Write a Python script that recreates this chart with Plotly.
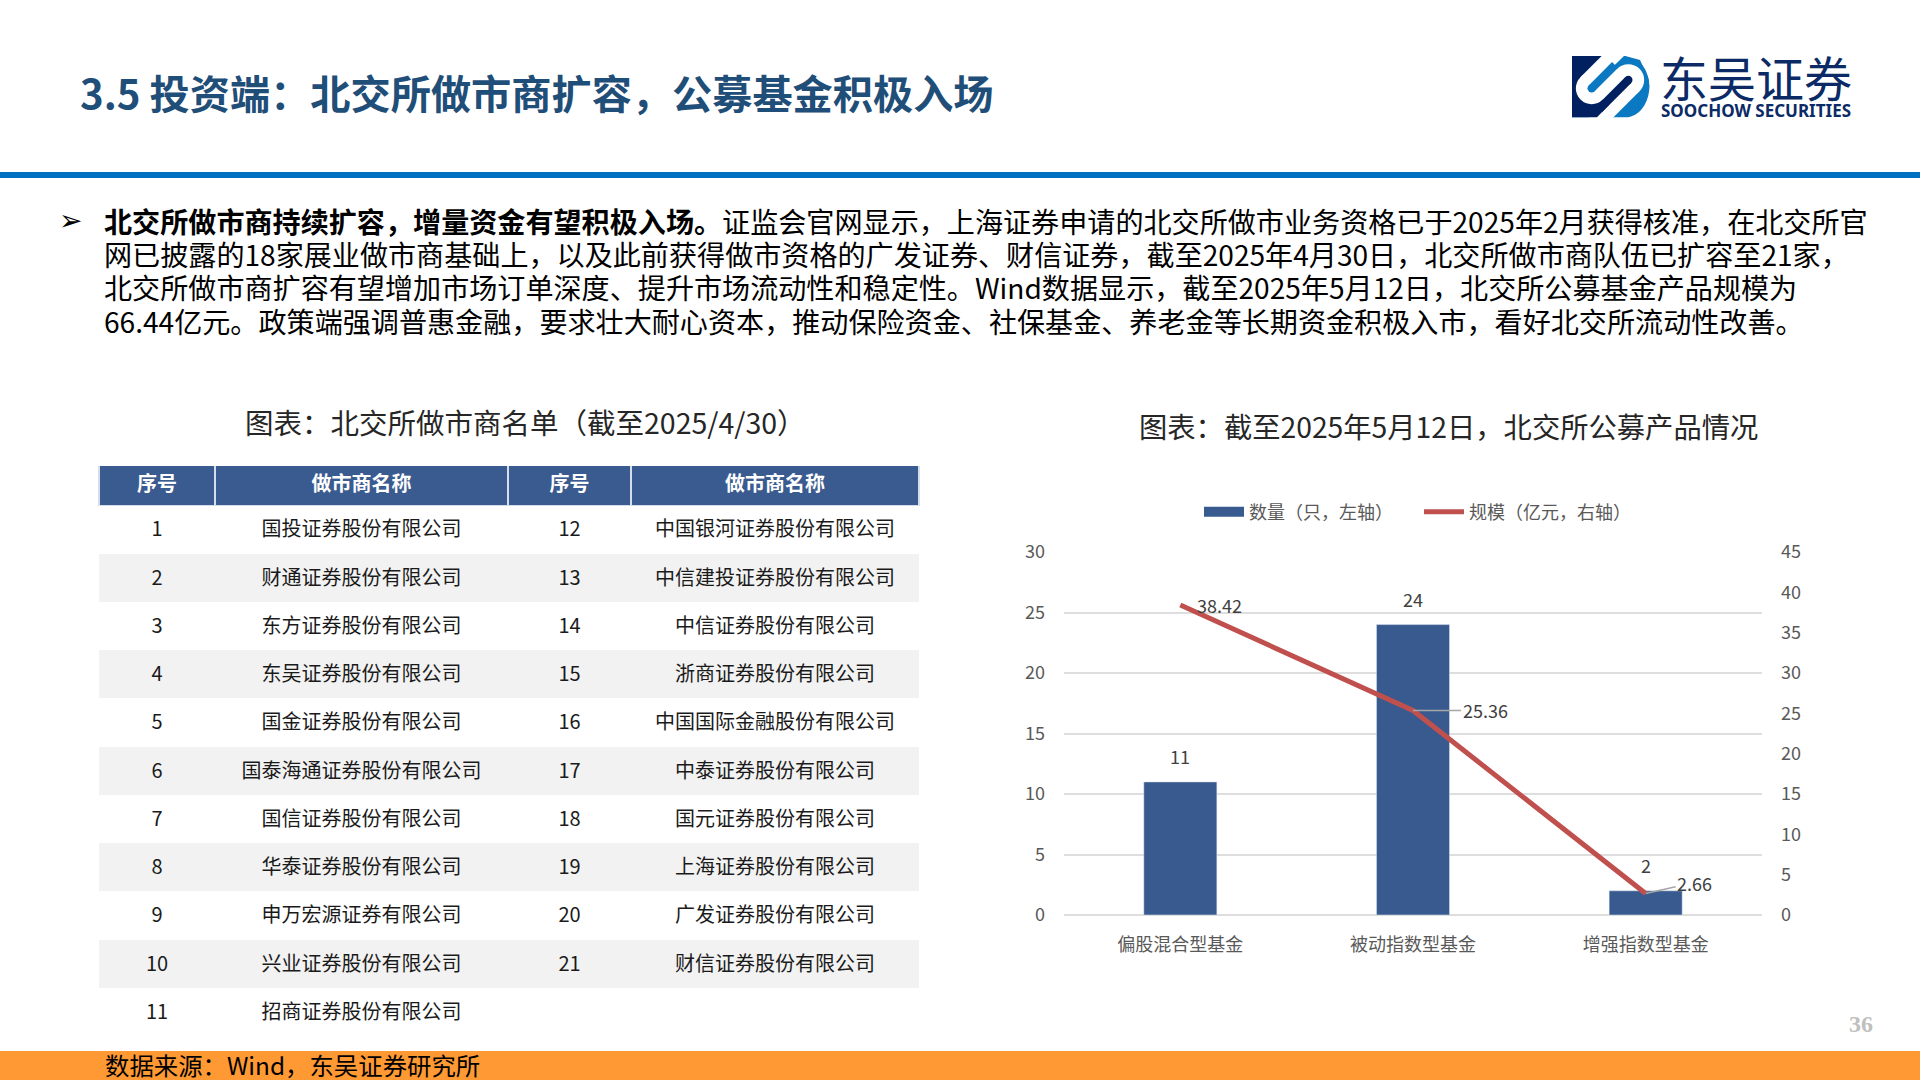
import plotly.graph_objects as go

W, H = 1920, 1080
FONT = "Noto Sans CJK SC"

# chart data
fund_types = ["偏股混合型基金", "被动指数型基金", "增强指数型基金"]
fund_counts = [11, 24, 2]
fund_scales = [38.42, 25.36, 2.66]

# table data
seq_left = ["1", "2", "3", "4", "5", "6", "7", "8", "9", "10", "11"]
names_left = ["国投证券股份有限公司", "财通证券股份有限公司", "东方证券股份有限公司", "东吴证券股份有限公司",
              "国金证券股份有限公司", "国泰海通证券股份有限公司", "国信证券股份有限公司", "华泰证券股份有限公司",
              "申万宏源证券有限公司", "兴业证券股份有限公司", "招商证券股份有限公司"]
seq_right = ["12", "13", "14", "15", "16", "17", "18", "19", "20", "21", ""]
names_right = ["中国银河证券股份有限公司", "中信建投证券股份有限公司", "中信证券股份有限公司", "浙商证券股份有限公司",
               "中国国际金融股份有限公司", "中泰证券股份有限公司", "国元证券股份有限公司", "上海证券股份有限公司",
               "广发证券股份有限公司", "财信证券股份有限公司", ""]
table_header = ["序号", "做市商名称", "序号", "做市商名称"]

# page text
slide_title = "3.5 投资端：北交所做市商扩容，公募基金积极入场"
body_lines = [
    "<b>北交所做市商持续扩容，增量资金有望积极入场。</b>证监会官网显示，上海证券申请的北交所做市业务资格已于2025年2月获得核准，在北交所官",
    "网已披露的18家展业做市商基础上，以及此前获得做市资格的广发证券、财信证券，截至2025年4月30日，北交所做市商队伍已扩容至21家，",
    "北交所做市商扩容有望增加市场订单深度、提升市场流动性和稳定性。Wind数据显示，截至2025年5月12日，北交所公募基金产品规模为",
    "66.44亿元。政策端强调普惠金融，要求壮大耐心资本，推动保险资金、社保基金、养老金等长期资金积极入市，看好北交所流动性改善。",
]
table_title = "图表：北交所做市商名单（截至2025/4/30）"
chart_title = "图表：截至2025年5月12日，北交所公募产品情况"
source_text = "数据来源：Wind，东吴证券研究所"


def px(x):
    return x / W


def py(y):
    return 1 - y / H


def note(text, x, y, size, color="#000000", anchor="left", family=FONT):
    return dict(text=text, x=px(x), y=py(y), xref="paper", yref="paper", xanchor=anchor, yanchor="middle",
                showarrow=False, font=dict(family=family, size=size, color=color))


def cell_text(vals, bold=False):
    # the table sets text from the top of the cell, a larger outer font pushes it down to the middle
    # the trailing <br> stops the table from word wrapping on the space inside the span tag
    out = []
    for v in vals:
        t = '<span style="font-size:20px">%s</span><br>' % v
        out.append("<b>%s</b>" % t if bold else t)
    return out


fig = go.Figure()

# table on the left
stripes = ["#FFFFFF" if i % 2 == 0 else "#F2F2F2" for i in range(len(seq_left))]
fig.add_trace(go.Table(
    domain=dict(x=[px(99), px(919)], y=[py(1036), py(460.4)]),
    columnwidth=[116, 293, 123, 288],
    header=dict(values=cell_text(table_header, bold=True), height=39, align="center",
                fill_color="#3A5B8F", line=dict(color="#D5DEEA", width=1.5),
                font=dict(family=FONT, size=40, color="#FFFFFF")),
    cells=dict(values=[cell_text(seq_left), cell_text(names_left), cell_text(seq_right), cell_text(names_right)],
               height=48.25, align="center",
               fill_color=[stripes] * 4, line=dict(color=[stripes] * 4, width=0),
               font=dict(family=FONT, size=40, color="#1A1A1A")),
))

# bars and line, the legend swatch of the bars is a thick line so it comes out as a wide block
fig.add_trace(go.Bar(x=fund_types, y=fund_counts, marker=dict(color="#385A8E"), showlegend=False,
                     width=0.314, xaxis="x", yaxis="y"))
fig.add_trace(go.Scatter(x=[None], y=[None], name="数量（只，左轴）", mode="lines",
                         line=dict(color="#385A8E", width=11), xaxis="x", yaxis="y"))
fig.add_trace(go.Scatter(x=fund_types, y=fund_scales, name="规模（亿元，右轴）", mode="lines",
                         line=dict(color="#C0504D", width=5), xaxis="x", yaxis="y2"))

fig.update_layout(
    width=W, height=H, autosize=False,
    margin=dict(l=0, r=0, t=0, b=0, autoexpand=False),
    paper_bgcolor="#FFFFFF", plot_bgcolor="#FFFFFF",
    font=dict(family=FONT, size=18, color="#595959"),
    xaxis=dict(domain=[px(1064), px(1762)], type="category", categoryorder="array", categoryarray=fund_types,
               range=[-0.5, 2.5], showline=False, ticks="",
               showgrid=False, ticklabelstandoff=17, tickfont=dict(size=18, color="#595959")),
    yaxis=dict(domain=[py(915), py(552)], range=[0, 30], dtick=5, gridcolor="#DEDEDE", gridwidth=1.5,
               zerolinecolor="#DEDEDE", zerolinewidth=1.5, showline=False, ticks="", ticklabelstandoff=18,
               tickfont=dict(size=18, color="#595959")),
    yaxis2=dict(range=[0, 45], dtick=5, overlaying="y", side="right", showgrid=False, zeroline=False,
                showline=False, ticks="", ticklabelstandoff=18, tickfont=dict(size=18, color="#595959")),
    legend=dict(orientation="h", x=px(1199), y=py(512), xanchor="left", yanchor="middle",
                itemwidth=40, entrywidth=165, entrywidthmode="pixels",
                font=dict(size=18, color="#595959"), bgcolor="rgba(0,0,0,0)"),
)

# data labels, bar counts above the bars
annotations = []
for cat, val in zip(fund_types, fund_counts):
    annotations.append(dict(x=cat, y=val, xref="x", yref="y", text=str(val), showarrow=False, yanchor="bottom",
                            yshift=11, font=dict(size=18, color="#404040")))

# line labels with the grey leader lines
annotations.append(dict(x=fund_types[0], y=fund_scales[0], xref="x", yref="y2", text=str(fund_scales[0]),
                        showarrow=False, xanchor="left", xshift=15, yshift=0, font=dict(size=18, color="#404040")))
annotations.append(dict(x=fund_types[1], y=fund_scales[1], xref="x", yref="y2", text=str(fund_scales[1]),
                        showarrow=True, arrowhead=0, arrowwidth=1.5, arrowcolor="#A6A6A6", ax=72, ay=0,
                        font=dict(size=18, color="#404040")))
annotations.append(dict(x=fund_types[2], y=fund_scales[2], xref="x", yref="y2", text=str(fund_scales[2]),
                        showarrow=True, arrowhead=0, arrowwidth=1.5, arrowcolor="#A6A6A6", ax=49, ay=-11,
                        font=dict(size=18, color="#404040")))

# page texts
annotations.append(note("<b>%s</b>" % slide_title, 78, 92, 40.2, "#1F4E79"))
annotations.append(note("➢", 57, 220, 28, family="DejaVu Sans"))
for i, line in enumerate(body_lines):
    annotations.append(note(line, 102, 220 + i * 33.4, 28.1))
annotations.append(note(table_title, 525.5, 421, 28.5, "#262626", anchor="center"))
annotations.append(note(chart_title, 1448, 425.5, 28.3, "#262626", anchor="center"))
annotations.append(note(source_text, 103, 1064, 24.4))
annotations.append(note("<b>36</b>", 1861, 1024, 24, "#BFBFBF", anchor="center", family="Liberation Serif"))
annotations.append(note("东吴证券", 1658, 76, 48, "#0B2A66"))
annotations.append(note("<b>SOOCHOW SECURITIES</b>", 1659, 111, 17, "#0B2A66", family="Noto Sans"))
fig.update_layout(annotations=annotations)


# logo pieces are given in the coordinates of a 3x crop, offset to the slide
def lx(x):
    return px(1500 + x / 3)


def ly(y):
    return py(30 + y / 3)


def poly(pts, color):
    d = "M" + " L".join("%f,%f" % (lx(a), ly(b)) for a, b in pts) + " Z"
    return dict(type="path", path=d, xref="paper", yref="paper", fillcolor=color, line=dict(width=0))


def bar(a, b, width, color):
    d = "M%f,%f L%f,%f" % (lx(a[0]), ly(a[1]), lx(b[0]), ly(b[1]))
    return dict(type="path", path=d, xref="paper", yref="paper", line=dict(color=color, width=width))


def dot(c, r, color):
    return dict(type="circle", xref="paper", yref="paper", x0=lx(c[0] - r), x1=lx(c[0] + r),
                y0=ly(c[1] + r), y1=ly(c[1] - r), fillcolor=color, line=dict(width=0))


NAVY, BLUE = "#002060", "#0B78C2"
d_shape = "M%f,%f L%f,%f C%f,%f %f,%f %f,%f C%f,%f %f,%f %f,%f L%f,%f Z" % (
    lx(216), ly(78), lx(375), ly(78), lx(420), ly(78), lx(448), ly(125), lx(448), ly(170),
    lx(448), ly(215), lx(420), ly(262), lx(375), ly(262), lx(216), ly(262))
logo = [
    dict(type="path", path=d_shape, xref="paper", yref="paper", fillcolor=BLUE, line=dict(width=0)),
    bar((385, 150), (270, 265), 31.7, "#FFFFFF"),
    poly([(216, 78), (305, 78), (242, 141), (326, 226), (291, 262), (216, 262)], NAVY),
    bar((275, 175), (385, 65), 31.7, "#FFFFFF"),
    poly([(342, 107), (372, 78), (376, 78), (420, 90), (445, 145), (448, 170), (438, 205), (432, 197)], BLUE),
    dot((275, 175), 47.5, "#FFFFFF"),
    dot((385, 150), 47.5, "#FFFFFF"),
    bar((275, 175), (345, 105), 8.3, BLUE),
    dot((275, 175), 12.5, BLUE),
    bar((385, 150), (298, 237), 8.3, NAVY),
    dot((385, 150), 12.5, NAVY),
]

# rule under the title, orange band at the bottom, white strip trims the table header to its height
bands = [
    dict(type="rect", xref="paper", yref="paper", x0=0, x1=1, y0=py(178), y1=py(172), fillcolor="#0070C0",
         line=dict(width=0), layer="below"),
    dict(type="rect", xref="paper", yref="paper", x0=0, x1=1, y0=0, y1=py(1051), fillcolor="#FF9933",
         line=dict(width=0), layer="below"),
    dict(type="rect", xref="paper", yref="paper", x0=px(90), x1=px(930), y0=py(466), y1=py(455), fillcolor="#FFFFFF",
         line=dict(width=0)),
]
fig.update_layout(shapes=bands + logo)

fig.write_html("out.html", config=dict(displayModeBar=False),
               post_script="document.body.style.margin='0';document.body.style.overflow='hidden';")
